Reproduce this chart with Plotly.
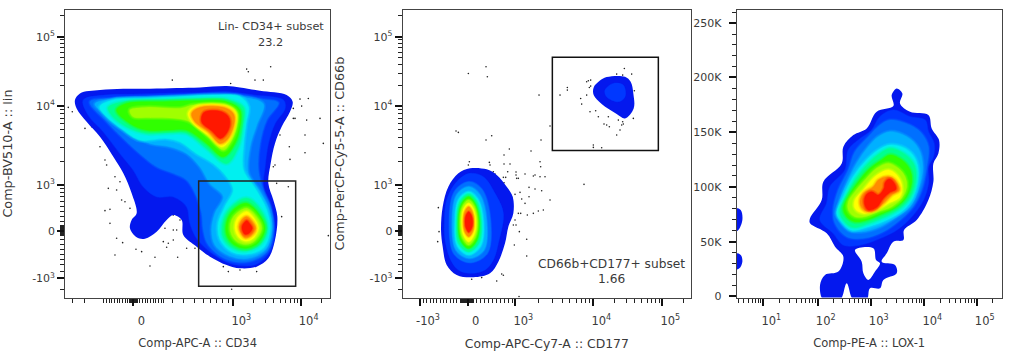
import math
import plotly.graph_objects as go

# Values are in display channels of each biexponential/log scale.
LEVEL_COLORS = ["#0418ee", "#0038ff", "#0070ff", "#00b0ff", "#00f0f0", "#00ff90",
                "#30ff00", "#a0ff00", "#ffff00", "#ff8c00", "#ff1800"]
LEVEL_SOFT = [0, 2, 3.5, 4.5, 5, 5, 5, 5, 4.5, 4.5, 4.5]

# ---------- panel 1: density contours ----------
P1_L1 = [[(225,300),(240,280),(300,270),(370,266),(450,266),(530,264),(600,262),(680,258),(720,262),(780,272),(860,285),(878,305),(870,335),(845,380),(825,430),(812,490),(805,550),(820,600),(832,650),(825,720),(805,775),(770,800),(720,805),(680,795),(630,770),(590,740),(550,705),(545,660),(520,645),(500,660),(470,695),(435,716),(410,712),(390,685),(395,660),(410,640),(395,580),(370,520),(340,470),(300,410),(260,365),(230,325)]]
P1_L2 = [[(250,300),(320,285),(400,283),(500,280),(600,278),(680,275),(760,285),(850,300),(855,325),(825,370),(805,430),(795,500),(790,560),(812,620),(824,680),(812,750),(770,792),(720,796),(680,786),(630,755),(590,715),(570,670),(560,620),(520,590),(470,590),(430,560),(400,510),(360,460),(310,395),(265,345)]]
P1_L3 = [[(270,305),(340,295),(450,290),(550,287),(650,285),(710,285),(790,298),(835,308),(800,360),(780,430),(775,510),(790,570),(812,620),(820,690),(802,755),(755,783),(705,785),(660,768),(622,730),(610,690),(605,640),(590,590),(560,540),(520,520),(470,500),(430,470),(380,425),(320,365)]]
P1_L4 = [[(285,312),(340,297),(440,293),(540,290),(640,287),(720,290),(790,312),(770,375),(750,440),(745,520),(778,570),(808,630),(815,690),(798,748),(745,775),(690,768),(645,735),(635,690),(645,640),(670,590),(630,550),(600,500),(560,460),(510,440),(450,430),(390,400),(335,355)]]
P1_L5 = [[(300,320),(340,300),(440,295),(540,290),(640,285),(720,290),(745,320),(738,370),(730,440),(730,510),(765,565),(800,630),(810,685),(792,742),(745,762),(695,755),(660,718),(655,670),(675,620),(700,570),(680,530),(640,490),(590,460),(540,425),(500,415),(420,420),(370,390),(320,350)]]
P1_L6 = [[(325,322),(370,305),(480,300),(580,297),(680,298),(730,322),(728,380),(715,440),(680,490),(620,445),(560,400),(510,398),(440,400),(380,380),(335,345)],
         [(740,595),(782,630),(802,685),(782,732),(740,752),(700,745),(670,712),(668,670),(690,625)]]
P1_L7 = [[(350,330),(380,310),(490,305),(590,302),(680,305),(720,330),(720,380),(705,430),(670,470),(620,430),(560,390),(510,390),(440,390),(390,370)],
         [(738,610),(775,640),(795,685),(775,728),(738,745),(703,735),(680,705),(680,665),(700,630)]]
P1_L8 = [[(390,330),(440,322),(540,325),(580,315),(680,315),(710,335),(710,380),(690,430),(670,450),(625,410),(570,365),(530,355),(440,352),(400,350)],
         [(740,625),(770,650),(785,685),(765,722),(738,733),(708,722),(692,695),(695,660),(712,638)]]
P1_L9 = [[(565,340),(590,318),(680,318),(708,340),(705,380),(685,425),(665,440),(625,405),(580,370)],
         [(740,635),(762,655),(775,685),(758,716),(735,723),(715,710),(705,685),(712,655)]]
P1_L10 = [[(575,340),(600,322),(680,325),(702,345),(700,380),(680,420),(660,430),(625,395),(585,365)],
          [(740,650),(755,662),(767,685),(752,708),(735,713),(722,698),(717,680),(725,660)]]
P1_L11 = [[(612,337),(665,335),(688,355),(685,390),(662,415),(635,392),(605,365)],
          [(740,662),(750,672),(757,685),(747,700),(735,703),(728,693),(726,680),(731,670)]]
P1_DOTS = [(740,207),(745,215),(812,200),(517,240),(692,250),(765,240),(790,240),(900,297),(925,295),(905,318),(217,335),(205,322),(880,355),(920,360),(960,355),(255,385),(275,380),(300,440),(315,480),(320,495),(345,530),(360,545),(350,570),(325,565),(365,600),(375,605),(390,625),(330,628),(315,632),(330,670),(350,715),(368,728),(408,748),(425,755),(345,765),(450,798),(465,772),(533,772),(505,730),(520,720),(490,725),(495,685),(520,690),(530,690),(540,660),(520,645),(500,742),(560,745),(585,745),(670,800),(685,815),(720,810),(770,815),(695,868),(845,650),(865,560),(830,550),(820,500),(825,495),(870,478),(868,440),(840,405),(915,405),(970,430),(915,458),(985,707),(885,355),(880,325)]

# ---------- panel 2 ----------
P2_L1 = [[(420,505),(470,508),(500,525),(530,560),(548,590),(550,640),(535,680),(525,730),(505,785),(480,820),(430,832),(380,825),(350,795),(338,740),(333,690),(338,620),(355,560),(385,520)],
         [(830,231),(885,230),(902,245),(910,280),(911,325),(885,355),(860,342),(815,312),(791,285),(791,262),(808,243)]]
P2_L2 = [[(418,520),(460,530),(495,580),(520,640),(505,730),(490,780),(465,810),(420,820),(385,810),(362,780),(345,720),(343,670),(350,600),(380,545)],
         [(850,250),(880,255),(885,290),(865,305),(830,290),(825,270)]]
P2_L3 = [[(416,545),(456,568),(482,667),(472,760),(420,788),(372,762),(358,667),(373,575)]]
P2_L4 = [[(416,560),(450,585),(470,667),(462,750),(418,775),(378,750),(367,667),(380,585)]]
P2_L5 = [[(416,575),(444,598),(460,667),(452,738),(416,765),(382,738),(375,667),(386,598)]]
P2_L6 = [[(416,582),(440,604),(454,667),(446,730),(416,755),(386,730),(380,667),(390,604)]]
P2_L7 = [[(416,590),(436,612),(448,667),(440,722),(416,745),(392,722),(385,667),(394,612)]]
P2_L8 = [[(416,600),(434,620),(443,667),(436,712),(416,735),(396,712),(390,667),(397,620)]]
P2_L9 = [[(416,610),(431,628),(438,667),(432,705),(416,725),(400,705),(395,667),(400,628)]]
P2_L10 = [[(416,620),(427,635),(432,665),(428,695),(416,710),(404,695),(400,665),(404,635)]]
P2_L11 = [[(416,635),(424,645),(428,665),(425,685),(416,697),(408,685),(405,665),(408,645)]]
P2_DOTS = [(415,220),(468,200),(472,230),(378,393),(385,397),(485,407),(468,420),(627,285),(660,378),(633,420),(538,447),(603,453),(522,465),(630,485),(632,500),(418,485),(415,495),(478,487),(480,495),(522,492),(540,492),(490,515),(495,522),(533,515),(558,516),(558,525),(585,522),(610,528),(615,525),(630,530),(645,530),(520,532),(527,532),(522,548),(560,535),(565,535),(635,572),(597,562),(615,567),(570,577),(555,583),(545,592),(575,597),(585,610),(597,590),(660,600),(640,630),(625,633),(610,640),(592,645),(572,640),(565,640),(555,660),(550,675),(558,675),(568,695),(590,718),(590,768),(553,735),(762,553),(325,623),(327,695),(323,725),(515,822),(520,826),(500,843),(455,833),(425,838),(567,890),
           (690,285),(712,262),(712,270),(752,295),(755,312),(770,245),(775,242),(782,240),(770,285),(778,262),(782,258),(780,335),(797,332),(805,350),(835,350),(838,380),(822,372),(830,375),(865,360),(878,365),(880,372),(875,375),(870,390),(860,405),(910,355),(790,435),(790,442),(815,443),(883,205),(860,222),(878,225),(905,222),(913,272)]

# ---------- panel 3 ----------
P3_L1 = [[(650,265),(667,280),(660,310),(690,335),(745,345),(755,385),(777,420),(775,460),(760,490),(760,545),(745,600),(710,660),(672,690),(670,720),(640,725),(620,760),(605,785),(645,795),(650,820),(610,840),(600,865),(570,865),(560,900),(520,900),(500,850),(480,900),(430,900),(420,855),(435,825),(475,815),(490,770),(465,740),(440,700),(390,670),(390,655),(425,600),(430,545),(485,490),(490,440),(520,405),(560,385),(590,335),(640,318),(635,285)],
         [(165,625),(182,630),(187,660),(175,690),(165,695)],
         [(165,760),(182,765),(187,785),(178,805),(165,808)]]
P3_HOLE = [[(525,750),(580,745),(588,780),(600,790),(585,815),(565,840),(550,820),(545,785)]]
P3_L2 = [[(640,330),(690,350),(735,360),(745,395),(762,430),(760,470),(745,500),(745,550),(730,600),(695,650),(650,690),(600,715),(540,735),(490,735),(460,700),(420,660),(440,610),(450,560),(495,510),(505,450),(535,420),(575,390),(600,350)]]
P3_L3 = [[(630,360),(690,375),(725,400),(745,440),(740,500),(725,570),(700,620),(660,660),(610,695),(550,715),(500,710),(465,670),(460,630),(475,570),(505,510),(525,455),(565,410),(600,375)]]
P3_L4 = [[(630,395),(680,410),(715,445),(728,500),(715,570),(690,620),(650,650),(600,680),(545,695),(505,690),(475,650),(480,600),(500,550),(530,490),(565,440),(595,410)]]
P3_L5 = [[(630,435),(675,445),(705,475),(715,520),(700,590),(670,630),(620,660),(565,680),(515,690),(485,665),(470,640),(490,590),(520,530),(560,480),(595,450)]]
P3_L6 = [[(630,445),(670,460),(700,490),(708,530),(692,590),(660,625),(615,650),(565,670),(520,682),(490,660),(480,635),(495,595),(525,540),(565,490),(600,460)]]
P3_L7 = [[(630,465),(665,480),(690,510),(695,545),(680,590),(650,620),(610,640),(560,660),(525,665),(500,650),(490,625),(505,590),(535,545),(570,505),(605,480)]]
P3_L8 = [[(625,490),(655,505),(675,530),(680,560),(665,595),(635,620),(595,635),(555,650),(525,650),(505,630),(505,605),(525,575),(555,540),(590,505)]]
P3_L9 = [[(625,510),(650,525),(665,555),(660,590),(625,610),(590,630),(550,640),(525,625),(525,600),(550,570),(585,530)]]
P3_L10 = [[(625,530),(645,540),(658,570),(635,585),(610,610),(585,630),(555,632),(540,610),(550,580),(580,560),(595,540)]]
P3_L11 = [[(628,537),(642,548),(648,568),(628,578),(610,595),(590,622),(565,630),(553,610),(558,585),(575,575),(595,585),(612,565),(615,548)]]

P1_LEVELS = [P1_L1, P1_L2, P1_L3, P1_L4, P1_L5, P1_L6, P1_L7, P1_L8, P1_L9, P1_L10, P1_L11]
P2_LEVELS = [P2_L1, P2_L2, P2_L3, P2_L4, P2_L5, P2_L6, P2_L7, P2_L8, P2_L9, P2_L10, P2_L11]
P3_LEVELS = [P3_L1, P3_L2, P3_L3, P3_L4, P3_L5, P3_L6, P3_L7, P3_L8, P3_L9, P3_L10, P3_L11]

# gates: x0, y0, x1, y1
P1_GATE = (596, 543, 887, 859)
P2_GATE = (667, 171, 985, 451)

# ---------- axis ticks ----------
BIEX_Y_MAJOR = [110, 318, 555, 692, 835]
BIEX_Y_TEXT = ["10<sup>5</sup>", "10<sup>4</sup>", "10<sup>3</sup>", "0", "-10<sup>3</sup>"]
P1_X_MAJOR = [400, 700, 902]
P1_X_TEXT = ["0", "10<sup>3</sup>", "10<sup>4</sup>"]
P2_X_MAJOR = [270, 413, 556, 790, 997]
P2_X_TEXT = ["-10<sup>3</sup>", "0", "10<sup>3</sup>", "10<sup>4</sup>", "10<sup>5</sup>"]
P3_X_MAJOR = [250, 413, 572, 733, 890]
P3_X_TEXT = ["10<sup>1</sup>", "10<sup>2</sup>", "10<sup>3</sup>", "10<sup>4</sup>", "10<sup>5</sup>"]
P3_Y_MAJOR = [69, 231, 396, 562, 725, 888]
P3_Y_TEXT = ["250K", "200K", "150K", "100K", "50K", "0"]


def decade(a, b):
    return [a + (b - a) * math.log10(k) for k in range(2, 10)]


BIEX_Y_MINOR = ([47] + decade(318, 110) + decade(555, 318)
                + [565, 577, 590, 603, 618, 633, 648, 663, 678]
                + list(range(680, 706, 3))
                + [706, 720, 733, 750, 765, 780, 795, 815, 870])
P1_X_MINOR = ([218, 255, 310] + list(range(320, 388, 8)) + list(range(388, 416, 2))
              + list(range(420, 490, 8)) + [490, 518, 550, 585, 612, 632, 650, 668, 685]
              + decade(700, 902) + [963])
P2_X_MINOR = (list(range(280, 395, 10)) + list(range(395, 433, 2)) + list(range(440, 556, 12))
              + decade(556, 790) + decade(790, 997) + [1059])
P3_X_MINOR = [175, 190, 205, 216, 226, 234, 241, 246] + decade(250, 413) + decade(413, 572) \
    + decade(572, 733) + decade(733, 890) + [938]
P3_Y_MINOR = [888 - i * (888 - 69) / 25 for i in range(1, 25) if i % 5] + [37]

TEXT = "#3a3a3a"
FONT = "DejaVu Sans"
W, H = 1012, 358


def ring_xy(rings):
    xs, ys = [], []
    for ring in rings:
        closed = list(ring) + [ring[0]]
        xs += [p[0] for p in closed] + [None]
        ys += [p[1] for p in closed] + [None]
    return xs, ys


def rgba(color, alpha):
    r, g, b = int(color[1:3], 16), int(color[3:5], 16), int(color[5:7], 16)
    return f"rgba({r},{g},{b},{alpha})"


fig = go.Figure()


def add_fill(rings, color, ax, soft=0):
    xs, ys = ring_xy(rings)
    common = dict(x=xs, y=ys, mode="lines", xaxis=f"x{ax}", yaxis=f"y{ax}",
                  hoverinfo="skip", showlegend=False)
    if soft:
        # feathered edge so neighbouring density bands blend like the original
        for width, alpha in ((soft * 1.0, 0.22), (soft * 0.6, 0.3)):
            fig.add_trace(go.Scatter(line=dict(width=width, shape="spline", smoothing=1.0,
                                               color=rgba(color, alpha)), **common))
    fig.add_trace(go.Scatter(fill="toself", fillcolor=color,
                             line=dict(width=soft * 0.25, shape="spline", smoothing=1.0,
                                       color=rgba(color, 0.5)), **common))


def add_dots(dots, ax):
    fig.add_trace(go.Scatter(x=[d[0] for d in dots], y=[d[1] for d in dots], mode="markers",
                             marker=dict(size=1.6, color="#222222", line=dict(width=0)),
                             xaxis=f"x{ax}", yaxis=f"y{ax}", hoverinfo="skip", showlegend=False))


add_dots(P1_DOTS, "")
for rings, col, s in zip(P1_LEVELS, LEVEL_COLORS, LEVEL_SOFT):
    add_fill(rings, col, "", s)
add_dots(P2_DOTS, 2)
for rings, col, s in zip(P2_LEVELS, LEVEL_COLORS, LEVEL_SOFT):
    add_fill(rings, col, 2, s * 0.6)
add_fill(P3_L1, LEVEL_COLORS[0], 3)
add_fill(P3_HOLE, "#ffffff", 3)
for rings, col, s in zip(P3_LEVELS[1:], LEVEL_COLORS[1:], LEVEL_SOFT[1:]):
    add_fill(rings, col, 3, s)


def xaxis(left, right, xrange, major, text, minor, title, anchor, title_size=11.5):
    return dict(domain=[left / W, right / W], range=xrange, anchor=anchor, automargin=False,
                tickmode="array", tickvals=major, ticktext=text, ticks="outside", ticklen=7,
                tickcolor="#111", tickwidth=1.8, ticklabelshift=8, ticklabelstandoff=5,
                tickfont=dict(family=FONT, size=11.5, color=TEXT),
                minor=dict(tickmode="array", tickvals=minor, ticks="outside", ticklen=4,
                           tickcolor="#222", tickwidth=1),
                showgrid=False, zeroline=False, showline=True, mirror=True,
                linecolor="#444", linewidth=1.2,
                title=dict(text=title, standoff=12, font=dict(family=FONT, size=title_size, color=TEXT)))


def yaxis(yrange, major, text, minor, title, anchor, standoff=16, label_standoff=0):
    return dict(domain=[(H - 297.6) / H, (H - 9.5) / H], range=yrange, anchor=anchor, automargin=False,
                tickmode="array", tickvals=major, ticktext=text, ticks="outside", ticklen=7,
                tickcolor="#111", tickwidth=1.8, ticklabelstandoff=label_standoff,
                tickfont=dict(family=FONT, size=11, color=TEXT),
                minor=dict(tickmode="array", tickvals=minor, ticks="outside", ticklen=4,
                           tickcolor="#222", tickwidth=1),
                showgrid=False, zeroline=False, showline=True, mirror=True,
                linecolor="#444", linewidth=1.2,
                title=dict(text=title, standoff=standoff, font=dict(family=FONT, size=12.8, color=TEXT)))


fig.update_layout(
    width=W, height=H, margin=dict(l=0, r=0, t=0, b=0), autosize=False,
    paper_bgcolor="white", plot_bgcolor="white", showlegend=False,
    xaxis=xaxis(65.3, 330, [196, 990], P1_X_MAJOR, P1_X_TEXT, P1_X_MINOR, "Comp-APC-A :: CD34", "y"),
    yaxis=yaxis([893, 28], BIEX_Y_MAJOR, BIEX_Y_TEXT, BIEX_Y_MINOR, "Comp-BV510-A :: lin", "x", 16),
    xaxis2=xaxis(402.7, 691, [218, 1083], P2_X_MAJOR, P2_X_TEXT, P2_X_MINOR, "Comp-APC-Cy7-A :: CD177", "y2", 12.4),
    yaxis2=yaxis([893, 28], BIEX_Y_MAJOR, BIEX_Y_TEXT, BIEX_Y_MINOR, "Comp-PerCP-Cy5-5-A :: CD66b", "x2", 22),
    xaxis3=xaxis(736.7, 1001.7, [170, 965], P3_X_MAJOR, P3_X_TEXT, P3_X_MINOR, "Comp-PE-A :: LOX-1", "y3"),
    yaxis3=yaxis([893, 28], P3_Y_MAJOR, P3_Y_TEXT, P3_Y_MINOR, "", "x3", 16, 5),
    shapes=[
        dict(type="rect", xref="x", yref="y", x0=P1_GATE[0], y0=P1_GATE[1], x1=P1_GATE[2], y1=P1_GATE[3],
             line=dict(color="#222", width=1.5)),
        dict(type="rect", xref="x2", yref="y2", x0=P2_GATE[0], y0=P2_GATE[1], x1=P2_GATE[2], y1=P2_GATE[3],
             line=dict(color="#111", width=1.5)),
    ],
    annotations=[
        dict(xref="x", yref="y", x=813, y=80, text="Lin- CD34+ subset", showarrow=False,
             font=dict(family=FONT, size=11.3, color=TEXT)),
        dict(xref="x", yref="y", x=812, y=126, text="23.2", showarrow=False,
             font=dict(family=FONT, size=11.3, color=TEXT)),
        dict(xref="x2", yref="y2", x=843, y=792, text="CD66b+CD177+ subset", showarrow=False,
             font=dict(family=FONT, size=12.2, color=TEXT)),
        dict(xref="x2", yref="y2", x=843, y=838, text="1.66", showarrow=False,
             font=dict(family=FONT, size=12.2, color=TEXT)),
    ],
)

fig.write_html("out.html", post_script="document.body.style.margin='0';",
               config=dict(displayModeBar=False))
